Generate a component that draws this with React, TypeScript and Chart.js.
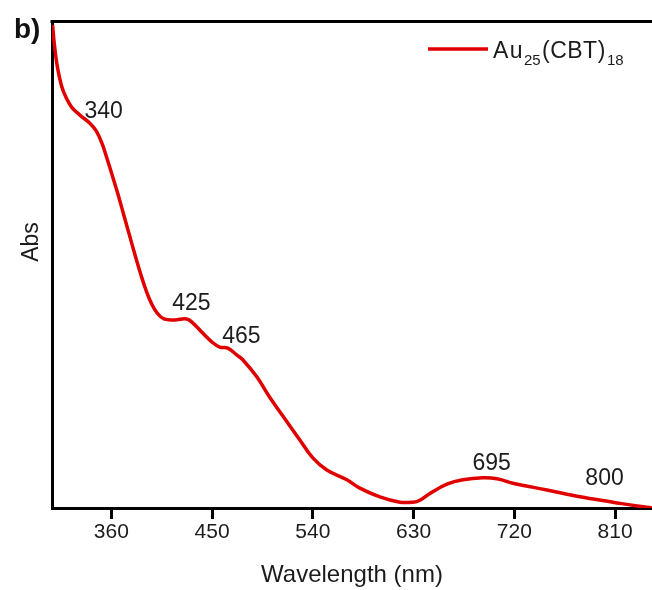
import React, { useEffect, useRef } from 'react';
import { Chart, registerables } from 'chart.js';

Chart.register(...registerables);

// ---- data ----
const wavelengths = [
  307.5, 309.3, 312.0, 315.6, 319.5, 324.5, 331.7, 340.6, 346.5, 352.0,
  356.0, 361.0, 366.0, 371.0, 376.0, 381.0, 386.0, 391.0, 396.0, 401.0,
  407.0, 416.6, 427.3, 432.7, 441.6, 449.7, 456.8, 464.0, 472.0, 477.4,
  489.9, 501.5, 516.7, 528.4, 540.0, 552.5, 570.4, 582.0, 599.9, 617.8,
  629.4, 635.7, 644.6, 659.8, 674.1, 692.0, 704.5, 718.8, 749.2, 778.7,
  808.2, 829.7, 843.1,
];
const absorbance = [
  0.994, 0.950, 0.905, 0.868, 0.845, 0.825, 0.809, 0.792, 0.776, 0.748,
  0.720, 0.683, 0.645, 0.604, 0.563, 0.522, 0.483, 0.448, 0.420, 0.401,
  0.389, 0.387, 0.389, 0.381, 0.360, 0.342, 0.331, 0.329, 0.315, 0.305,
  0.270, 0.228, 0.178, 0.140, 0.103, 0.078, 0.058, 0.041, 0.023, 0.012,
  0.012, 0.016, 0.030, 0.049, 0.058, 0.062, 0.060, 0.051, 0.037, 0.023,
  0.012, 0.004, 0.000,
];
const xTicks = [360, 450, 540, 630, 720, 810];
const xMin = 307;
const xMax = 843;

const peakLabels = ['340', '425', '465', '695', '800'];
const peakLabelX = [353.1, 431.5, 476.2, 699.8, 800.6];
const peakLabelY = [0.817, 0.422, 0.354, 0.0926, 0.0617];

const seriesMain = 'Au';
const seriesSub1 = '25';
const seriesMid = '(CBT)';
const seriesSub2 = '18';
const panelLabel = 'b)';
const xTitle = 'Wavelength (nm)';
const yTitle = 'Abs';

const RED = '#e00000';
const TEXT = '#1c1c1c';
const FONT = "'Liberation Sans', Arial, sans-serif";

const overlayPlugin = {
  id: 'overlay',
  afterDraw(chart: any) {
    const { ctx, chartArea, scales } = chart;
    const xs = scales.x;
    const ys = scales.y;
    ctx.save();

    // top frame line
    ctx.strokeStyle = '#000';
    ctx.lineWidth = 3;
    ctx.beginPath();
    ctx.moveTo(chartArea.left - 1.5, chartArea.top - 0.5);
    ctx.lineTo(chartArea.right, chartArea.top - 0.5);
    ctx.stroke();

    // panel label
    ctx.fillStyle = '#111';
    ctx.font = `bold 28px ${FONT}`;
    ctx.textAlign = 'left';
    ctx.textBaseline = 'alphabetic';
    ctx.fillText(panelLabel, 14, 38);

    // y title
    ctx.save();
    ctx.translate(32, 242);
    ctx.rotate(-Math.PI / 2);
    ctx.font = `23px ${FONT}`;
    ctx.fillStyle = TEXT;
    ctx.textAlign = 'center';
    ctx.textBaseline = 'middle';
    ctx.fillText(yTitle, 0, 0);
    ctx.restore();

    // peak annotations
    ctx.font = `23px ${FONT}`;
    ctx.fillStyle = TEXT;
    ctx.textAlign = 'center';
    ctx.textBaseline = 'middle';
    for (let i = 0; i < peakLabels.length; i++) {
      ctx.fillText(
        peakLabels[i],
        xs.getPixelForValue(peakLabelX[i]),
        ys.getPixelForValue(peakLabelY[i]) + 1
      );
    }

    // legend
    ctx.strokeStyle = RED;
    ctx.lineWidth = 3.5;
    ctx.beginPath();
    ctx.moveTo(428, 49);
    ctx.lineTo(488, 49);
    ctx.stroke();

    ctx.textAlign = 'left';
    ctx.textBaseline = 'alphabetic';
    ctx.fillStyle = TEXT;
    (ctx as any).letterSpacing = '1.5px';
    ctx.font = `23px ${FONT}`;
    ctx.fillText(seriesMain, 493, 58);
    (ctx as any).letterSpacing = '0px';
    ctx.font = `15px ${FONT}`;
    ctx.fillText(seriesSub1, 524, 65);
    (ctx as any).letterSpacing = '0.5px';
    ctx.font = `23px ${FONT}`;
    ctx.fillText(seriesMid, 542, 58);
    (ctx as any).letterSpacing = '0px';
    ctx.font = `15px ${FONT}`;
    ctx.fillText(seriesSub2, 607, 65);

    ctx.restore();
  },
};

export default function App() {
  const canvasRef = useRef<HTMLCanvasElement | null>(null);

  useEffect(() => {
    const canvas = canvasRef.current;
    if (!canvas) return;
    const chart = new Chart(canvas, {
      type: 'line',
      data: {
        datasets: [
          {
            label: 'Au25(CBT)18',
            data: wavelengths.map((w, i) => ({ x: w, y: absorbance[i] })),
            borderColor: RED,
            borderWidth: 3.5,
            pointRadius: 0,
            fill: false,
            tension: 0.4,
          },
        ],
      },
      options: {
        animation: false,
        responsive: false,
        devicePixelRatio: 1,
        layout: { padding: { top: 22, right: 0, left: 0, bottom: 0 } },
        plugins: {
          legend: { display: false },
          tooltip: { enabled: false },
        },
        scales: {
          x: {
            type: 'linear',
            min: xMin,
            max: xMax,
            afterBuildTicks: (s: any) => {
              s.ticks = xTicks.map((v) => ({ value: v }));
            },
            afterFit: (s: any) => {
              s.height = 82;
            },
            ticks: {
              autoSkip: false,
              maxRotation: 0,
              padding: 1,
              color: TEXT,
              font: { family: FONT, size: 21 },
              callback: (v: any) => String(v),
            },
            grid: {
              display: true,
              drawOnChartArea: false,
              drawTicks: true,
              tickLength: 11,
              tickWidth: 3,
              tickColor: '#000',
            },
            border: { display: true, color: '#000', width: 3 },
            title: {
              display: true,
              text: xTitle,
              color: TEXT,
              font: { family: FONT, size: 24 },
              padding: { top: 0, bottom: 0 },
            },
          },
          y: {
            type: 'linear',
            min: 0,
            max: 1,
            afterFit: (s: any) => {
              s.width = 52;
            },
            ticks: { display: false },
            grid: { display: false },
            border: { display: true, color: '#000', width: 3 },
          },
        },
      },
      plugins: [overlayPlugin],
    });
    return () => chart.destroy();
  }, []);

  return (
    <div style={{ position: 'absolute', left: 0, top: 0, width: 652, height: 590, background: '#fff' }}>
      <canvas ref={canvasRef} width={652} height={590} style={{ display: 'block' }} />
    </div>
  );
}
